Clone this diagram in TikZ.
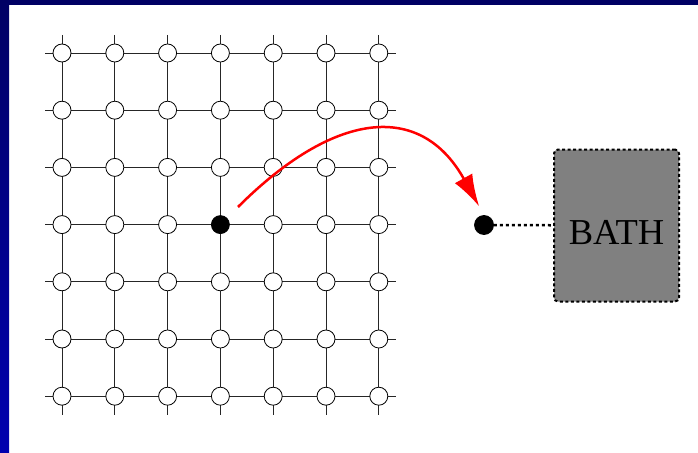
\documentclass[tikz,border=0pt]{standalone}
\usepackage{fontspec}
\setmainfont{Liberation Serif}
\usetikzlibrary{arrows.meta,positioning,backgrounds}
\definecolor{slidetop}{RGB}{0,0,100}
\definecolor{slidebot}{RGB}{0,0,175}
\definecolor{hop}{RGB}{255,0,0}

\begin{document}
\begin{tikzpicture}[x=1pt,y=-1pt,
  site/.style={circle,draw,fill=white,line width=0.8pt,minimum size=18pt,inner sep=0pt},
  occ/.style={site,fill=black},
  bond/.style={black!85,line width=0.8pt}]
  \useasboundingbox (0,0) rectangle (698,452);
  \fill[slidetop] (0,0) rectangle (698,5);
  \shade[top color=slidetop,bottom color=slidebot] (0,0) rectangle (9,452);
  \foreach \i in {1,...,7} {
    \foreach \j in {1,...,7} {
      \ifnum\i\j=44 \node[occ] (s-\i-\j) at ({62+52.8*(\i-1)},{53+57.2*(\j-1)}) {};
      \else \node[site] (s-\i-\j) at ({62+52.8*(\i-1)},{53+57.2*(\j-1)}) {}; \fi
    }
  }
  \begin{scope}[on background layer]
    \foreach \k in {1,...,7} {
      \draw[bond] ([xshift=-17pt]s-1-\k.center) -- ([xshift=17pt]s-7-\k.center);
      \draw[bond] ([yshift=18pt]s-\k-1.center) -- ([yshift=-19pt]s-\k-7.center);
    }
  \end{scope}
  \node[occ,minimum size=19pt] (dot) at (484,225) {};
  \node[draw,fill=gray,line width=2pt,dash pattern=on 3pt off 2.5pt,rounded corners=4pt,
    minimum width=125pt,minimum height=152pt,text height=38pt,
    font=\fontsize{36.5}{40}\selectfont] (bath) at (616.5,225.5) {BATH};
  \draw[line width=2.5pt,dash pattern=on 3pt off 3pt] (dot) -- (bath);
  \coordinate (hopstart) at (238,207);
  \draw[hop,line width=2.5pt,-{Latex[length=32pt,width=20pt]},shorten >=10pt]
    (hopstart) .. controls (333,112) and (420,100) .. (dot.north);
\end{tikzpicture}
\end{document}
